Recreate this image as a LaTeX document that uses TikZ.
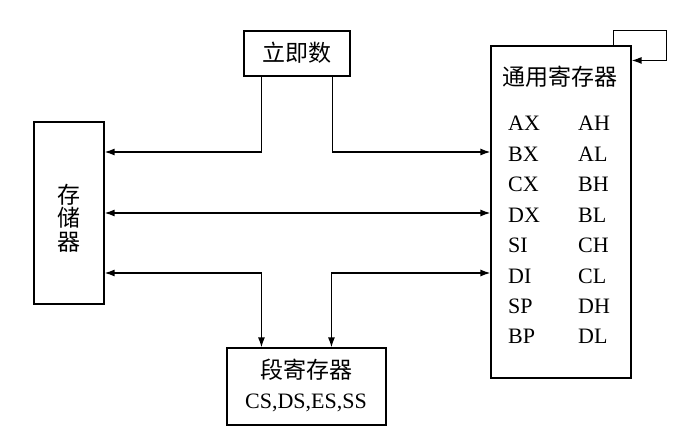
\documentclass[tikz,border=0pt]{standalone}
\usepackage{fontspec}
\setmainfont{Liberation Serif}
\newfontfamily\cjk{Noto Sans CJK SC}
\usetikzlibrary{arrows.meta}
\begin{document}
\begin{tikzpicture}[x=1pt,y=-1pt,>={Latex[length=10pt,width=7pt]},
  caja/.style={draw,line width=1.1pt},
  linea/.style={line width=1.4pt},
  txt/.style={font=\fontsize{22}{24}\selectfont,inner sep=0pt},
  chino/.style={font=\fontsize{23}{23.5}\selectfont\cjk,inner sep=0pt}]
\useasboundingbox (0,0) rectangle (674,446);

    %Cajas
    \node[caja,minimum width=70pt,minimum height=182pt] (mem) at (69,213) {};
    \node[chino,align=center] (memt) at (69,218) {存\\储\\器};
    \node[caja,minimum width=106pt,minimum height=45pt] (imm) at (297,53.5) {};
    \node[chino] (immt) at (297,53) {立即数};
    \node[caja,minimum width=140pt,minimum height=332pt] (gpr) at (561,212) {};
    \node[chino] (gprt) at (560,77) {通用寄存器};
    \node[caja,minimum width=159pt,minimum height=77pt] (seg) at (306.5,386.5) {};
    \node[chino] (segt) at (306,370) {段寄存器};
    \node[txt,anchor=base] (segr) at (306,408) {CS,DS,ES,SS};

    %Registros
    \foreach \a/\b [count=\i] in {AX/AH,BX/AL,CX/BH,DX/BL,SI/CH,DI/CL,SP/DH,BP/DL}{
        \node[txt,anchor=base west] (ra\i) at (508,{100.6+30.4*\i}) {\a};
        \node[txt,anchor=base west] (rb\i) at (578,{100.6+30.4*\i}) {\b};
    }

    %Puntos de los buses
    \coordinate (bA) at ([yshift=61pt]mem.east);
    \coordinate (bC) at ([yshift=-60pt]mem.east);
    \coordinate (i1) at ([xshift=18pt]imm.south west);
    \coordinate (i2) at ([xshift=-18pt]imm.south east);
    \coordinate (s1) at ([xshift=35pt]seg.north west);
    \coordinate (s2) at ([xshift=105pt]seg.north west);
    \coordinate (lp) at ([xshift=35pt,yshift=15pt]gpr.north east);

    %Buses
    \draw[linea,<-] (bA) -| (i1);
    \draw[linea,->] (i2) |- (gpr.west |- bA);
    \draw[linea,<->] (mem.east) -- (gpr.west |- mem.east);
    \draw[linea,<->] (bC) -| (s1);
    \draw[linea,<->] (gpr.west |- bC) -| (s2);
    \draw[linea,->] ([xshift=-18pt]gpr.north east) |- (lp) |- ([yshift=-15pt]gpr.north east);
\end{tikzpicture}
\end{document}
